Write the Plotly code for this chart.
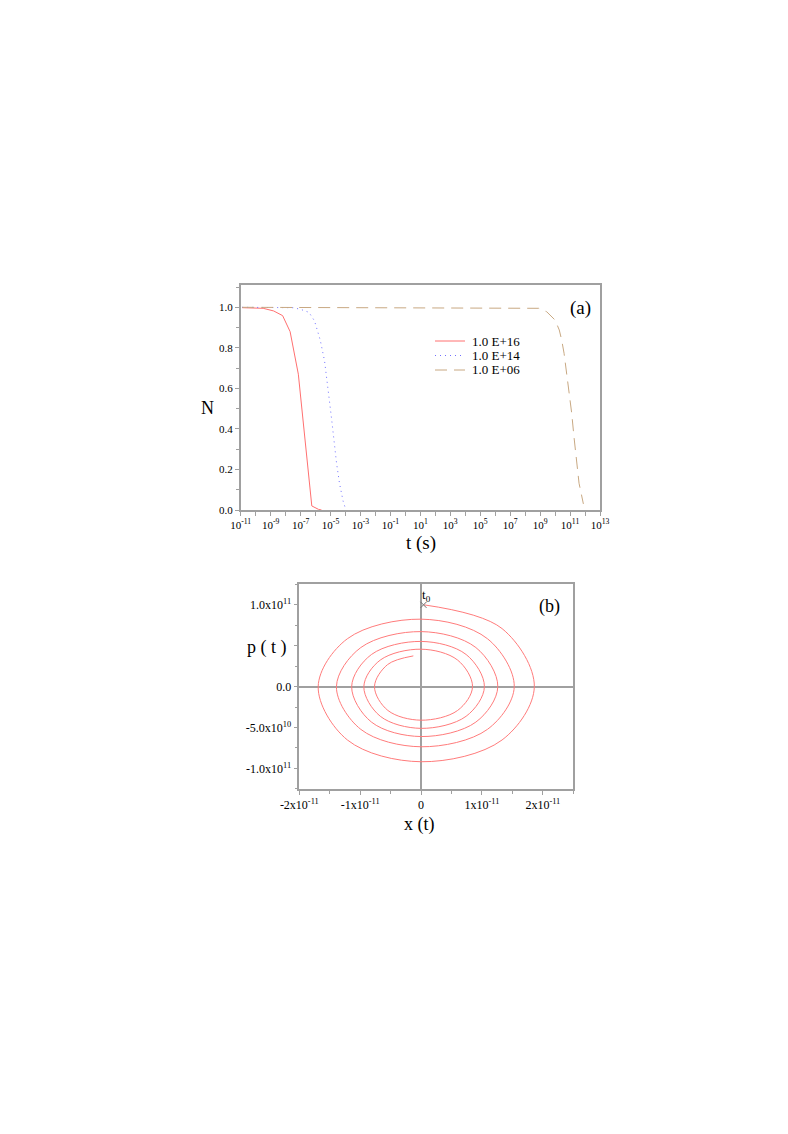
import numpy as np
import plotly.graph_objects as go

# ---- panel (a) data : log10(t) and N ----
t_exp_16 = [-10.9, -9.5, -8.8, -8.2, -7.7, -7.15, -6.25, -5.8, -5.6]
N_16 = [0.998, 0.995, 0.982, 0.959, 0.88, 0.67, 0.02, 0.003, 0.0]

t_exp_14 = [-10.9, -7.5, -7.0, -6.44, -6.07, -5.69, -5.40, -5.22, -5.07,
            -4.91, -4.76, -4.60, -4.40, -4.16, -3.97]
N_14 = [1.0, 0.998, 0.99, 0.975, 0.933, 0.839, 0.736, 0.639, 0.536,
        0.438, 0.336, 0.233, 0.131, 0.044, 0.0]

t_exp_06 = [-10.9, 8.9, 9.44, 10.0, 10.28, 10.44, 10.6, 10.78, 10.95,
            11.11, 11.26, 11.45, 11.6, 11.89]
N_06 = [1.0, 0.995, 0.978, 0.937, 0.888, 0.839, 0.773, 0.674, 0.576,
        0.477, 0.362, 0.23, 0.132, 0.03]

legend_names = ["1.0 E+16", "1.0 E+14", "1.0 E+06"]

# ---- panel (b) data : x in 1e-11, p in 1e11 ----
x_spiral = [0.05, 1.33, 1.86, 1.33, 0, -1.21, -1.69, -1.21,
            0, 1.09, 1.53, 1.09, 0, -0.99, -1.39, -0.99,
            0, 0.90, 1.26, 0.90, 0, -0.815, -1.14, -0.815,
            0, 0.74, 1.04, 0.74, 0, -0.67, -0.94, -0.67,
            0, 0.60, 0.845, 0.60, 0, -0.545, -0.765, -0.55, -0.127]
p_spiral = [1.00, 0.71, 0, -0.652, -0.918, -0.652, 0, 0.586,
            0.825, 0.586, 0, -0.522, -0.735, -0.522, 0, 0.478,
            0.673, 0.478, 0, -0.433, -0.61, -0.433, 0, 0.393,
            0.553, 0.393, 0, -0.362, -0.51, -0.362, 0, 0.325,
            0.458, 0.325, 0, -0.291, -0.41, -0.291, 0, 0.27, 0.376]
x_t0 = [0.04]
p_t0 = [1.0]

W, H = 788, 1134
OFF = 8  # body margin of the html page
SERIF = "Liberation Serif, Times New Roman, serif"
FRAME = "#a0a0a0"
RED = "#ff7070"

def px(x):
    return (x - OFF) / W

def py(y):
    return 1 - (y - OFF) / H

fig = go.Figure()

# panel (a) curves
fig.add_trace(go.Scatter(x=[10**e for e in t_exp_16], y=N_16, mode="lines",
                         line=dict(color=RED, width=1), xaxis="x", yaxis="y"))
fig.add_trace(go.Scatter(x=[10**e for e in t_exp_14], y=N_14, mode="lines",
                         line=dict(color="#7070ff", width=1, dash="1px,4px"),
                         xaxis="x", yaxis="y"))
fig.add_trace(go.Scatter(x=[10**e for e in t_exp_06], y=N_06, mode="lines",
                         line=dict(color="#c8a882", width=1, dash="12px,7px"),
                         xaxis="x", yaxis="y"))

# panel (b) spiral
fig.add_trace(go.Scatter(x=np.array(x_spiral) * 1e-11, y=np.array(p_spiral) * 1e11,
                         mode="lines", line=dict(color="#ff7b7b", width=1, shape="spline",
                                                 smoothing=1.0),
                         xaxis="x2", yaxis="y2"))
fig.add_trace(go.Scatter(x=np.array(x_t0) * 1e-11, y=np.array(p_t0) * 1e11, mode="markers",
                         marker=dict(symbol="x-thin", size=6,
                                     line=dict(color="#707070", width=1)),
                         xaxis="x2", yaxis="y2"))

# tick labels
odd_exp = list(range(-11, 14, 2))
even_exp = list(range(-10, 13, 2))
xa_ticktext = ["10<sup>%d</sup>" % e for e in odd_exp]

tick_font_a = dict(family=SERIF, size=11, color="black")
tick_font_b = dict(family=SERIF, size=12, color="black")

fig.update_layout(
    width=W, height=H,
    margin=dict(l=0, r=0, t=0, b=0),
    paper_bgcolor="white", plot_bgcolor="white",
    showlegend=False,
    xaxis=dict(domain=[px(240.7), px(600)], anchor="y", type="log", range=[-11, 13],
               tickmode="array", tickvals=[10**e for e in odd_exp], ticktext=xa_ticktext,
               ticks="outside", ticklen=4, tickcolor=FRAME,
               minor=dict(tickvals=[10**e for e in even_exp], ticks="outside", ticklen=4,
                          tickcolor=FRAME),
               showline=True, mirror=True, linecolor=FRAME, linewidth=1.5,
               showgrid=False, zeroline=False, automargin=False, tickfont=tick_font_a),
    yaxis=dict(domain=[py(510), py(285)], anchor="x", range=[0, 1.11],
               tickmode="array", tickvals=[0, 0.2, 0.4, 0.6, 0.8, 1.0],
               ticktext=["0.0", "0.2", "0.4", "0.6", "0.8", "1.0"],
               ticks="outside", ticklen=4, tickcolor=FRAME,
               minor=dict(dtick=0.1, ticks="outside", ticklen=3, tickcolor=FRAME),
               showline=True, mirror=True, linecolor=FRAME, linewidth=1.5,
               showgrid=False, zeroline=False, automargin=False, tickfont=tick_font_a),
    xaxis2=dict(domain=[px(299.3), px(573.3)], anchor="y2", range=[-2e-11, 2.5e-11],
                tickmode="array", tickvals=[-2e-11, -1e-11, 0, 1e-11, 2e-11],
                ticktext=["-2x10<sup>-11</sup>", "-1x10<sup>-11</sup>", "0",
                          "1x10<sup>-11</sup>", "2x10<sup>-11</sup>"],
                ticks="outside", ticklen=4, tickcolor=FRAME,
                minor=dict(dtick=0.5e-11, tick0=0, ticks="outside", ticklen=3,
                           tickcolor=FRAME),
                showline=True, mirror=True, linecolor=FRAME, linewidth=1.5,
                showgrid=False, zeroline=True, zerolinecolor=FRAME, zerolinewidth=1.5,
                automargin=False, tickfont=tick_font_b),
    yaxis2=dict(domain=[py(789.3), py(584)], anchor="x2", range=[-1.255e11, 1.255e11],
                tickmode="array", tickvals=[-1e11, -5e10, 0, 5e10, 1e11],
                ticktext=["-1.0x10<sup>11</sup>", "-5.0x10<sup>10</sup>", "0.0", "",
                          "1.0x10<sup>11</sup>"],
                ticks="outside", ticklen=4, tickcolor=FRAME,
                minor=dict(dtick=2.5e10, tick0=0, ticks="outside", ticklen=3,
                           tickcolor=FRAME),
                showline=True, mirror=True, linecolor=FRAME, linewidth=1.5,
                showgrid=False, zeroline=True, zerolinecolor=FRAME, zerolinewidth=1.5,
                automargin=False, tickfont=tick_font_b),
)

# manual legend for panel (a)
leg_styles = [dict(color=RED, width=1),
              dict(color="#7070ff", width=1, dash="1px,4px"),
              dict(color="#c8a882", width=1, dash="12px,7px")]
leg_y = [341, 355.5, 370]
for name, style, yy in zip(legend_names, leg_styles, leg_y):
    fig.add_shape(type="line", xref="paper", yref="paper",
                  x0=px(435), x1=px(465), y0=py(yy), y1=py(yy), line=style)
    fig.add_annotation(x=px(470), y=py(yy), xref="paper", yref="paper", text=name,
                       showarrow=False, xanchor="left", yanchor="middle",
                       font=dict(family=SERIF, size=13, color="black"))

# axis titles and panel labels
labels = [
    ("N", 207.5, 407.5, 18),
    ("t (s)", 421, 543, 19),
    ("(a)", 580, 307.5, 19),
    ("p ( t )", 266.5, 647, 18),
    ("x (t)", 419, 824, 18),
    ("(b)", 549, 606, 18),
    ("t<sub>0</sub>", 426, 595, 13),
]
for txt, xx, yy, size in labels:
    fig.add_annotation(x=px(xx), y=py(yy), xref="paper", yref="paper", text=txt,
                       showarrow=False, xanchor="center", yanchor="middle",
                       font=dict(family=SERIF, size=size, color="black"))

fig.write_html("out.html")
